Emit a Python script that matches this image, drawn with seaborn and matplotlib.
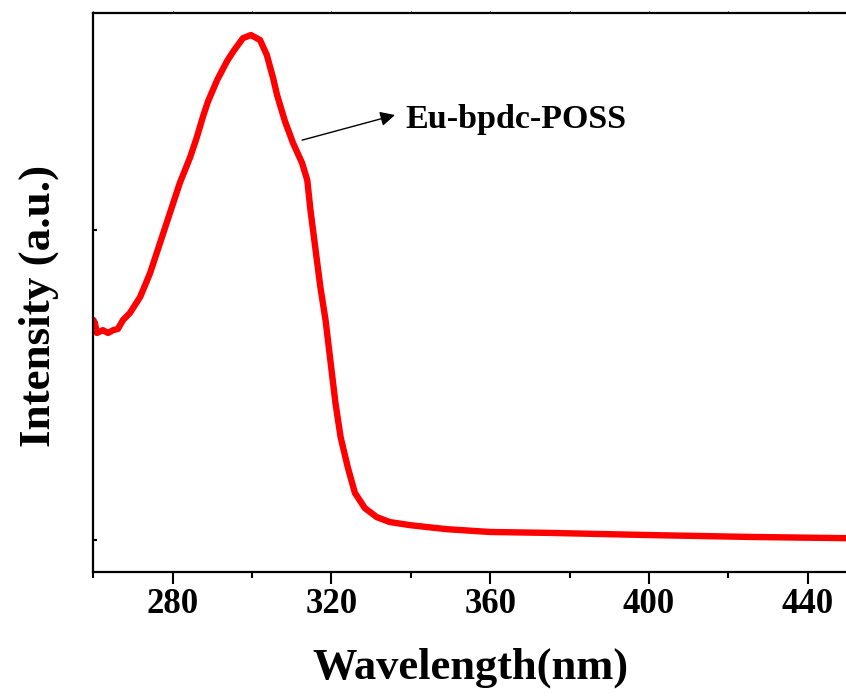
import numpy as np
import pandas as pd
import matplotlib
matplotlib.use("Agg")
import matplotlib.pyplot as plt
import seaborn as sns
from matplotlib.ticker import MultipleLocator, FixedLocator

# ==========================================
# DATA
# ==========================================
wavelength = [260.0, 260.4, 260.9, 262.4, 263.7, 265.0, 266.2, 267.5, 269.2,
              271.8, 274.3, 276.8, 279.3, 281.8, 284.4, 286.1, 287.6, 288.9,
              291.2, 293.7, 295.2, 297.7, 299.7, 302.0, 303.7, 305.3, 306.3,
              308.3, 310.3, 312.6, 313.9, 314.7, 316.0, 317.2, 318.5, 319.8,
              321.0, 322.3, 324.1, 325.9, 328.4, 331.4, 334.7, 339.8, 344.0,
              349.1, 359.9, 375.0, 400.2, 425.4, 449.8]
intensity = [1.710, 1.700, 1.668, 1.677, 1.668, 1.677, 1.681, 1.710, 1.732,
             1.784, 1.861, 1.958, 2.055, 2.152, 2.235, 2.300, 2.365, 2.415,
             2.484, 2.545, 2.575, 2.619, 2.629, 2.613, 2.565, 2.490, 2.435,
             2.350, 2.281, 2.216, 2.161, 2.065, 1.935, 1.816, 1.710, 1.571,
             1.442, 1.332, 1.235, 1.152, 1.103, 1.074, 1.058, 1.048, 1.042,
             1.035, 1.026, 1.023, 1.016, 1.010, 1.006]

x_ticks = [280, 320, 360, 400, 440]
y_ticks = [1.0, 2.0]
sample_name = "Eu-bpdc-POSS"
arrow_tail = (312.6, 2.290)
arrow_tip = (336.0, 2.371)
label_pos = (338.5, 2.355)

df = pd.DataFrame({"Wavelength": wavelength, "Intensity": intensity})

sns.set_theme(style="ticks")
plt.rcParams['font.family'] = ['Liberation Serif', 'DejaVu Serif']
plt.rcParams['font.weight'] = 'bold'
for key in ['text.color', 'axes.labelcolor', 'xtick.color', 'ytick.color', 'axes.edgecolor']:
    plt.rcParams[key] = 'black'

fig = plt.figure(figsize=(8.46, 6.97), dpi=100)
ax = fig.add_axes([0.1103, 0.1793, 0.8915, 0.802])

sns.lineplot(data=df, x="Wavelength", y="Intensity", ax=ax,
             color="#ff0000", linewidth=4.6, sort=False)

ax.set_xlim(260, 450)
ax.set_ylim(0.8968, 2.700)

ax.xaxis.set_major_locator(FixedLocator(x_ticks))
ax.xaxis.set_minor_locator(MultipleLocator(20))
ax.yaxis.set_major_locator(FixedLocator(y_ticks))
ax.yaxis.set_minor_locator(FixedLocator([]))
ax.set_yticklabels([])

ax.tick_params(axis='x', which='major', direction='out', length=8.5, width=1.5,
               labelsize=25, pad=3, top=True)
ax.tick_params(axis='x', which='minor', direction='out', length=4.5, width=1.5, top=True)
ax.tick_params(axis='x', which='both', labeltop=False)
ax.tick_params(axis='y', which='major', direction='in', length=3, width=1.5, left=True)
for lab in ax.get_xticklabels():
    lab.set_fontweight('bold')
# the ticks on the top spine are barely visible stubs
for t in ax.xaxis.get_major_ticks() + ax.xaxis.get_minor_ticks():
    t.tick2line.set_markersize(1.2)
    t.tick2line.set_markeredgewidth(0.8)

for side in ['left', 'bottom', 'top']:
    ax.spines[side].set_linewidth(1.6)
ax.spines['right'].set_visible(False)

ax.set_xlabel("Wavelength(nm)", fontsize=32, fontweight='bold', labelpad=19)
ax.set_ylabel("Intensity (a.u.)", fontsize=32.5, fontweight='bold')
ax.yaxis.set_label_coords(-0.046, 0.476)

ax.annotate("", xy=arrow_tip, xytext=arrow_tail,
            arrowprops=dict(arrowstyle="-|>", color="black", lw=1.0,
                            mutation_scale=22, shrinkA=0, shrinkB=0))
ax.text(label_pos[0], label_pos[1], sample_name, fontsize=24.5, fontweight='bold',
        ha='left', va='center')

fig.savefig("out.png", dpi=100)
